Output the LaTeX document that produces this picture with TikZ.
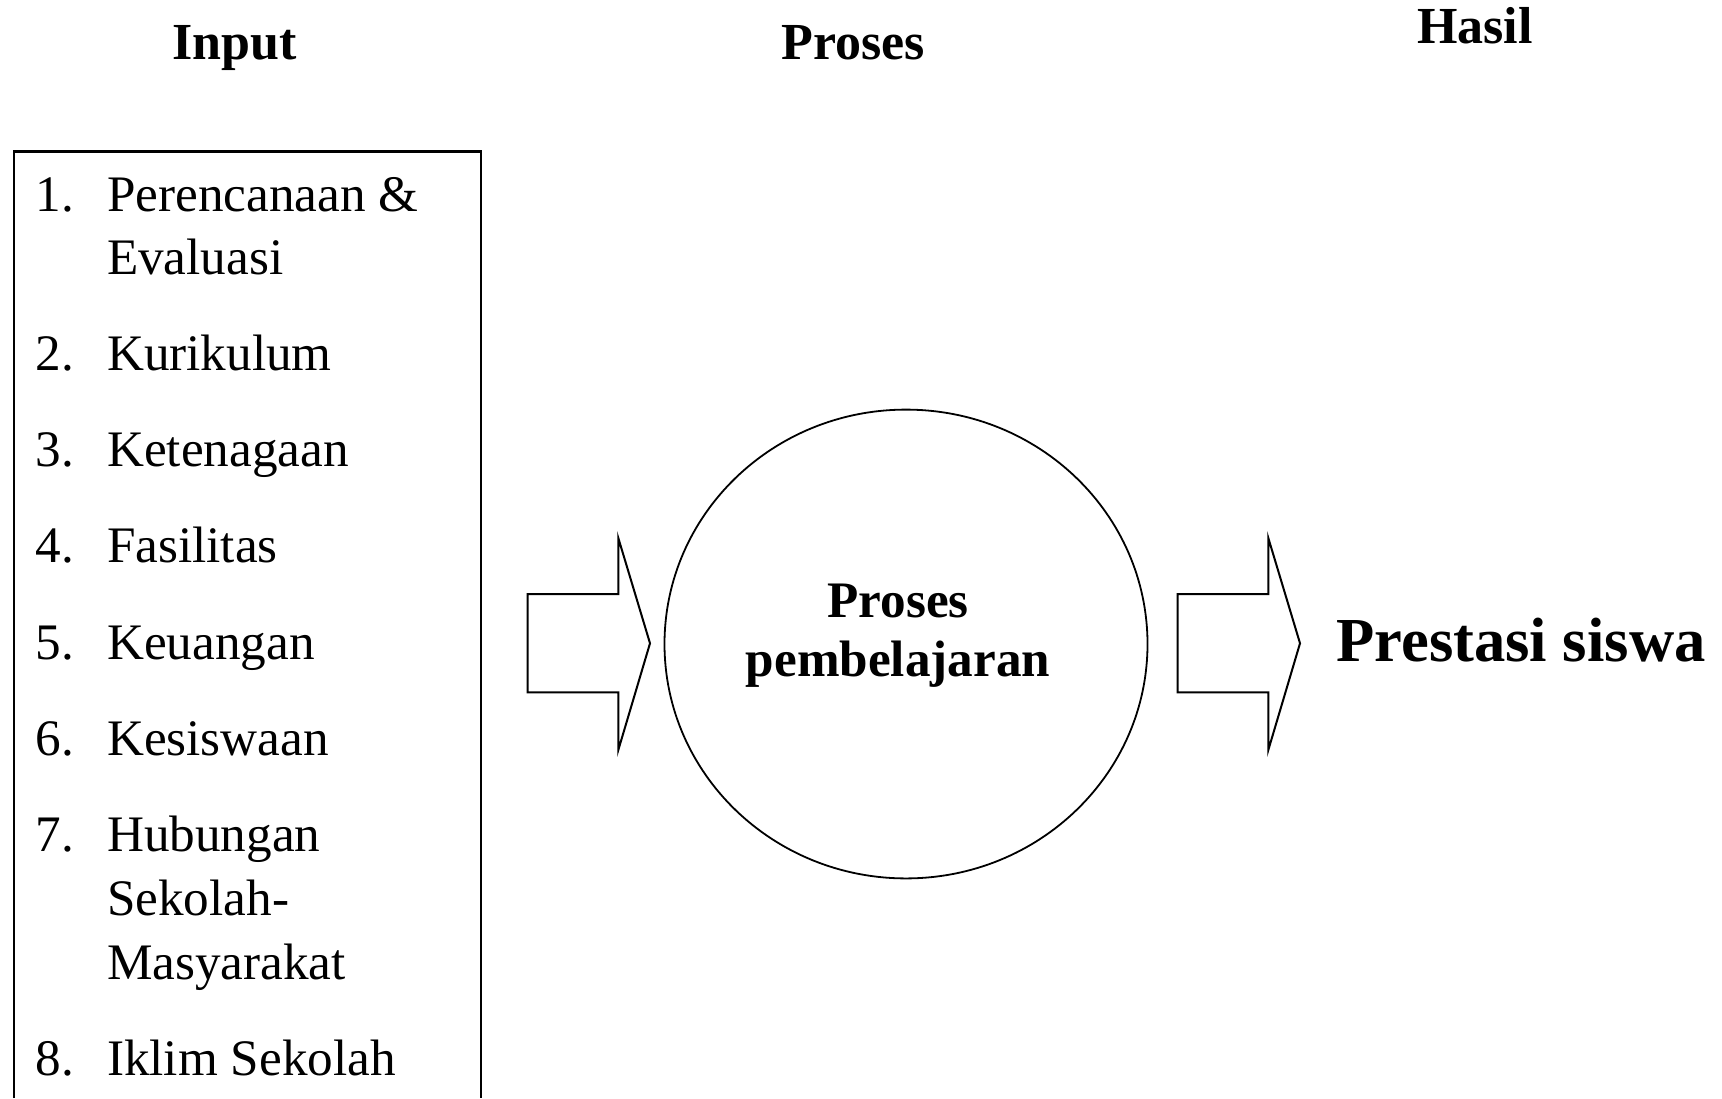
\documentclass[tikz,border=0pt]{standalone}
\usepackage{fontspec}
\setmainfont{Liberation Serif}
\usetikzlibrary{shapes.geometric}
\tikzset{
  head/.style={font=\fontsize{26}{31}\selectfont\bfseries, anchor=base, inner sep=0pt},
  item/.style={font=\fontsize{25.6}{31}\selectfont, anchor=base west, inner sep=0pt},
  ctext/.style={font=\fontsize{25.6}{31}\selectfont\bfseries, anchor=base, inner sep=0pt},
  result/.style={font=\fontsize{31.3}{38}\selectfont\bfseries, anchor=base, inner sep=0pt},
  frame/.style={draw=black, line width=1.2pt},
  bigarrow/.style={draw=black, line width=1pt, line join=miter, fill=white},
  procshape/.style={draw=black, line width=0.9pt, ellipse, minimum width=241.5pt, minimum height=234.4pt, inner sep=0pt}
}
\begin{document}
\begin{tikzpicture}[x=0.5pt,y=-0.5pt]
\useasboundingbox (0,0) rectangle (1722,1098);
% headers
\node[head] (hin) at (234.6,59.3) {Input};
\node[head] (hpr) at (853,59.3) {Proses};
\node[head] (hha) at (1475,43.3) {Hasil};
% input box (open at bottom)
\coordinate (bl) at (14,1098);
\coordinate (tl) at (14,151.5);
\coordinate (tr) at (481,151.5);
\coordinate (br) at (481,1098);
\draw[frame] (bl) -- (tl) -- (tr) -- (br);
% items
\node[item] (n1) at (35,211) {1.};
\node[item] (t1) at (106.7,211) {Perencanaan \&};
\node[item] (t1b) at (106.7,274.3) {Evaluasi};
\node[item] (n2) at (35,370.7) {2.};
\node[item] (t2) at (106.7,370.7) {Kurikulum};
\node[item] (n3) at (35,466.7) {3.};
\node[item] (t3) at (106.7,466.7) {Ketenagaan};
\node[item] (n4) at (35,562.7) {4.};
\node[item] (t4) at (106.7,562.7) {Fasilitas};
\node[item] (n5) at (35,659.3) {5.};
\node[item] (t5) at (106.7,659.3) {Keuangan};
\node[item] (n6) at (35,755) {6.};
\node[item] (t6) at (106.7,755) {Kesiswaan};
\node[item] (n7) at (35,851) {7.};
\node[item] (t7) at (106.7,851) {Hubungan};
\node[item] (t7b) at (106.7,915) {Sekolah-};
\node[item] (t7c) at (106.7,979) {Masyarakat};
\node[item] (n8) at (35,1075) {8.};
\node[item] (t8) at (106.7,1075) {Iklim Sekolah};
% arrows
\coordinate (a1) at (527.7,643.3);
\draw[bigarrow] (a1) ++(0,-49.3) -- ++(90.6,0) -- ++(0,-56) -- (650,643.3) -- (618.3,750) -- (618.3,692.3) -- (527.7,692.3) -- cycle;
\coordinate (a2) at (1177.7,643.3);
\draw[bigarrow] (a2) ++(0,-49.3) -- ++(90.6,0) -- ++(0,-56) -- (1300,643.3) -- (1268.3,750) -- (1268.3,692.3) -- (1177.7,692.3) -- cycle;
% process circle
\node[procshape] (proc) at (906,644) {};
\node[ctext] (p1) at (898,617.5) {Proses};
\node[ctext] (p2) at (898,676) {pembelajaran};
% result
\node[result] (res) at (1521,661.7) {Prestasi siswa};
\end{tikzpicture}
\end{document}
